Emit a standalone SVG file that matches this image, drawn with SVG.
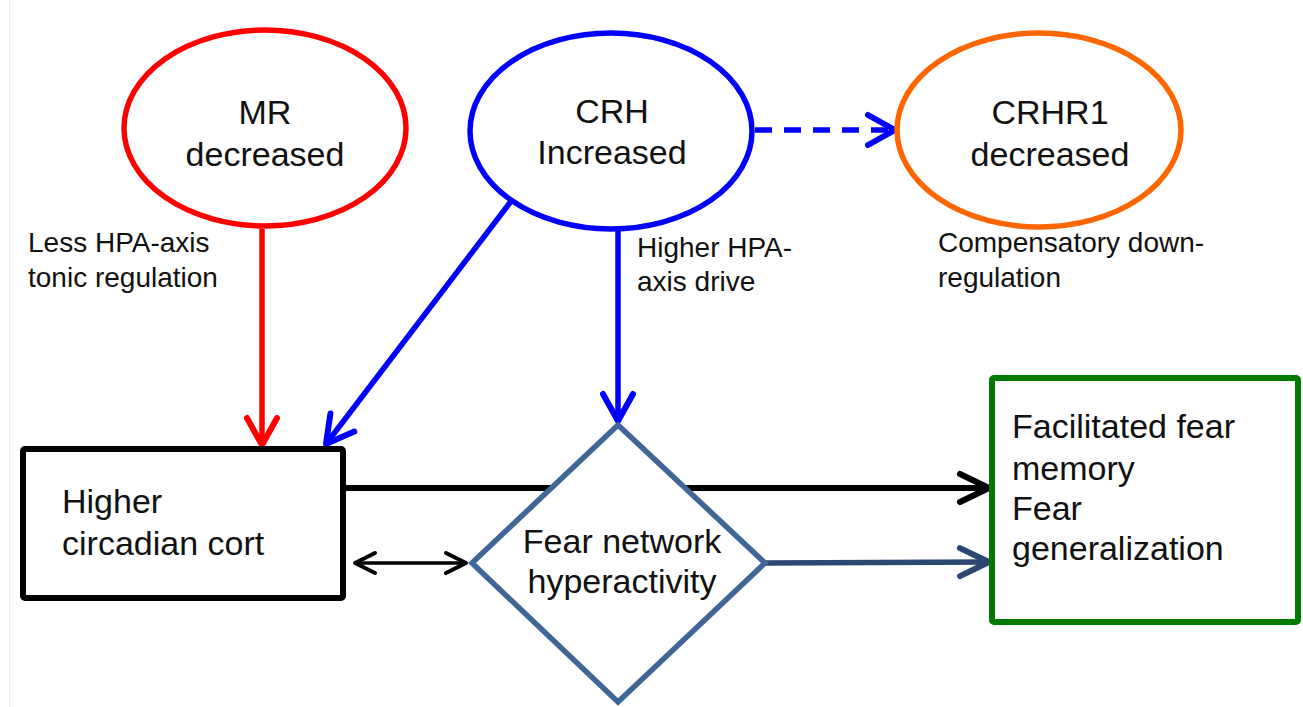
<svg xmlns="http://www.w3.org/2000/svg" width="1303" height="707" viewBox="0 0 1303 707">
<defs>
<style>
.node{font-family:"Liberation Sans",Arial,sans-serif;font-size:34px;fill:#111}
.lbl{font-family:"Liberation Sans",Arial,sans-serif;font-size:28px;fill:#111}
.mid{text-anchor:middle}
</style>
<marker id="hRed" viewBox="-35 -20 40 40" refX="0" refY="0" markerWidth="40" markerHeight="40" markerUnits="userSpaceOnUse" orient="auto" overflow="visible"><path d="M-27 -15 L0 0 L-27 15" fill="none" stroke="#ff0000" stroke-width="6" stroke-linecap="round" stroke-linejoin="round"/></marker>
<marker id="hBlue" viewBox="-35 -20 40 40" refX="0" refY="0" markerWidth="40" markerHeight="40" markerUnits="userSpaceOnUse" orient="auto" overflow="visible"><path d="M-27 -15 L0 0 L-27 15" fill="none" stroke="#0000ff" stroke-width="6" stroke-linecap="round" stroke-linejoin="round"/></marker>
<marker id="hBlack" viewBox="-35 -20 40 40" refX="0" refY="0" markerWidth="40" markerHeight="40" markerUnits="userSpaceOnUse" orient="auto" overflow="visible"><path d="M-29 -14 L0 0 L-29 14" fill="none" stroke="#000" stroke-width="6" stroke-linecap="round" stroke-linejoin="round"/></marker>
<marker id="hNavy" viewBox="-35 -20 40 40" refX="0" refY="0" markerWidth="40" markerHeight="40" markerUnits="userSpaceOnUse" orient="auto" overflow="visible"><path d="M-29 -14 L0 0 L-29 14" fill="none" stroke="#2c4770" stroke-width="6" stroke-linecap="round" stroke-linejoin="round"/></marker>
<marker id="hSmall" viewBox="-25 -15 30 30" refX="0" refY="0" markerWidth="30" markerHeight="30" markerUnits="userSpaceOnUse" orient="auto-start-reverse" overflow="visible"><path d="M-20 -10 L0 0 L-20 10" fill="none" stroke="#000" stroke-width="4" stroke-linecap="round" stroke-linejoin="round"/></marker>
</defs>
<rect x="0" y="0" width="1303" height="707" fill="#ffffff"/>
<line x1="9.5" y1="0" x2="9.5" y2="707" stroke="#efefef" stroke-width="1"/>

<g id="connectors">
<line x1="262" y1="229" x2="262" y2="445" stroke="#ff0000" stroke-width="5.5" marker-end="url(#hRed)"/>
<line x1="512" y1="200" x2="326" y2="444" stroke="#0000ff" stroke-width="5.5" marker-end="url(#hBlue)"/>
<line x1="618" y1="231" x2="618" y2="421" stroke="#0000ff" stroke-width="5.5" marker-end="url(#hBlue)"/>
<line x1="755" y1="130" x2="895" y2="130" stroke="#0000ff" stroke-width="5.5" stroke-dasharray="17 12" marker-end="url(#hBlue)"/>
<line x1="346" y1="488" x2="989" y2="488" stroke="#000" stroke-width="6" marker-end="url(#hBlack)"/>
<line x1="355" y1="563" x2="466" y2="563" stroke="#000" stroke-width="3.5" marker-start="url(#hSmall)" marker-end="url(#hSmall)"/>
<line x1="766" y1="563" x2="989" y2="562" stroke="#2c4770" stroke-width="5.5" marker-end="url(#hNavy)"/>
</g>

<g id="mr">
<ellipse cx="265" cy="128" rx="141" ry="98" fill="#fff" stroke="#ff0000" stroke-width="5.5"/>
<text class="node mid" x="265" y="124">MR</text>
<text class="node mid" x="265" y="166">decreased</text>
</g>
<g id="mr-label">
<text class="lbl" x="28" y="252">Less HPA-axis</text>
<text class="lbl" x="28" y="287">tonic regulation</text>
</g>

<g id="crh">
<ellipse cx="611" cy="131" rx="141" ry="98" fill="#fff" stroke="#0000ff" stroke-width="5.5"/>
<text class="node mid" x="612" y="123">CRH</text>
<text class="node mid" x="612" y="164">Increased</text>
</g>
<g id="crh-label">
<text class="lbl" x="637" y="257">Higher HPA-</text>
<text class="lbl" x="637" y="291">axis drive</text>
</g>

<g id="crhr1">
<ellipse cx="1039" cy="130" rx="142" ry="97" fill="#fff" stroke="#ff6600" stroke-width="5.5"/>
<text class="node mid" x="1050" y="124">CRHR1</text>
<text class="node mid" x="1050" y="166">decreased</text>
</g>
<g id="crhr1-label">
<text class="lbl" x="938" y="252">Compensatory down-</text>
<text class="lbl" x="938" y="287">regulation</text>
</g>

<g id="cort">
<rect x="23" y="449" width="320" height="149" rx="2" fill="#fff" stroke="#000" stroke-width="6"/>
<text class="node" x="62" y="513">Higher</text>
<text class="node" x="62" y="555">circadian cort</text>
</g>

<g id="fear-network">
<polygon points="618,425 765,563 618,702 472,563" fill="#fff" stroke="#3e6696" stroke-width="5.5" stroke-linejoin="miter"/>
<text class="node mid" x="622" y="553">Fear network</text>
<text class="node mid" x="622" y="593">hyperactivity</text>
</g>

<g id="outcome">
<rect x="992" y="378" width="306" height="244" rx="2" fill="#fff" stroke="#007a00" stroke-width="6"/>
<text class="node" x="1012" y="438">Facilitated fear</text>
<text class="node" x="1012" y="480">memory</text>
<text class="node" x="1012" y="520">Fear</text>
<text class="node" x="1012" y="560">generalization</text>
</g>
</svg>
